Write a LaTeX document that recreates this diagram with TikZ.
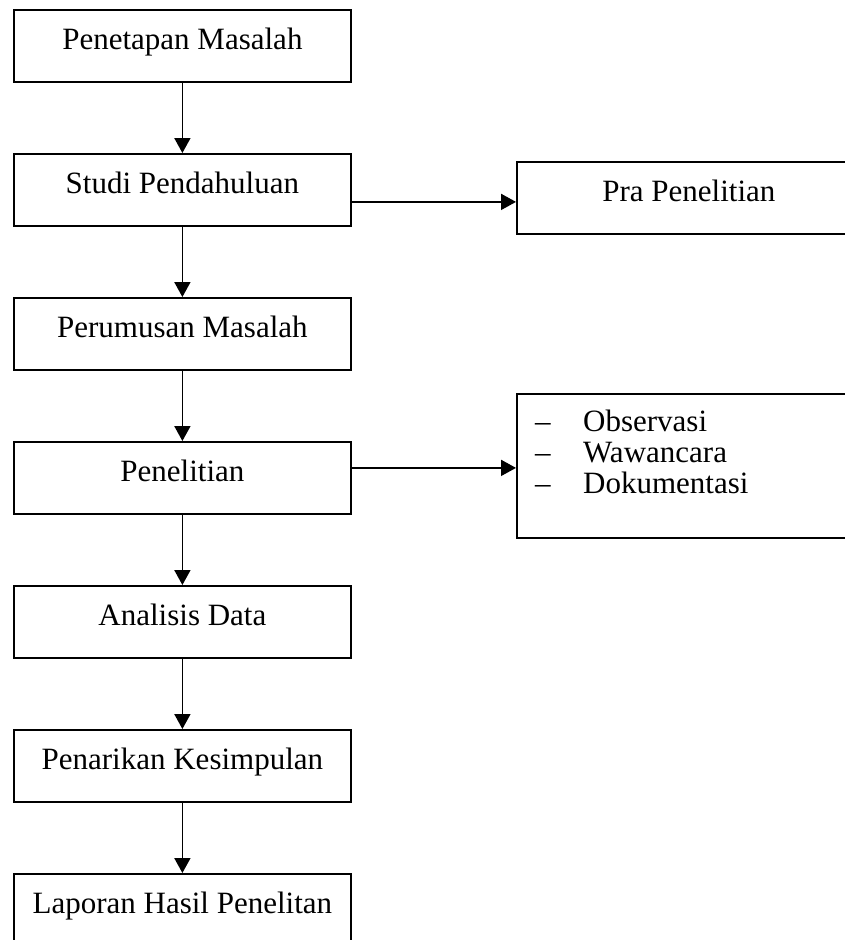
\documentclass[tikz,border=0pt]{standalone}
\usepackage{fontspec}
\setmainfont{Liberation Serif}
\usetikzlibrary{arrows.meta}
\begin{document}
\begin{tikzpicture}[x=1pt,y=-1pt,
  font=\fontsize{31}{31}\selectfont,
  box/.style={draw, line width=1.8pt, rectangle, minimum width=337pt, inner sep=0pt,
    text height=40pt, text depth=32pt, anchor=north west},
  sidebox/.style={box, minimum width=344pt},
  arr/.style={line width=1.8pt, -{Triangle[length=15pt,width=16pt]}},
  item/.style={anchor=base west, inner sep=0pt}]
\useasboundingbox (0,0) rectangle (845,940);
\clip (0,0) rectangle (845,940);
\node[box] (b1) at (13,9)   {Penetapan Masalah};
\node[box] (b2) at (13,153) {Studi Pendahuluan};
\node[box] (b3) at (13,297) {Perumusan Masalah};
\node[box] (b4) at (13,441) {Penelitian};
\node[box] (b5) at (13,585) {Analisis Data};
\node[box] (b6) at (13,729) {Penarikan Kesimpulan};
\node[box] (b7) at (13,873) {Laporan Hasil Penelitan};
\node[sidebox] (pra) at (516,161) {Pra Penelitian};
\node[draw, line width=1.8pt, rectangle, inner sep=0pt, minimum width=344pt,
  minimum height=144pt, anchor=north west] (obs) at (516,393) {};
\node[item] (d1) at (535,431) {–};
\node[item] (t1) at (583,431) {Observasi};
\node[item] (d2) at (535,462) {–};
\node[item] (t2) at (583,462) {Wawancara};
\node[item] (d3) at (535,493) {–};
\node[item] (t3) at (583,493) {Dokumentasi};
\draw[arr] (b1.south) -- (b2.north);
\draw[arr] (b2.south) -- (b3.north);
\draw[arr] (b3.south) -- (b4.north);
\draw[arr] (b4.south) -- (b5.north);
\draw[arr] (b5.south) -- (b6.north);
\draw[arr] (b6.south) -- (b7.north);
\draw[arr] ([yshift=-12pt]b2.east) -- ([yshift=-12pt]b2.east -| pra.west);
\draw[arr] ([yshift=10pt]b4.east) -- ([yshift=10pt]b4.east -| obs.west);
\end{tikzpicture}
\end{document}
